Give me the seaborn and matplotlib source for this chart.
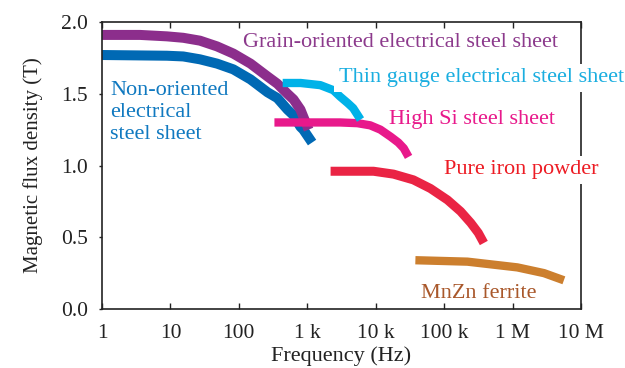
import matplotlib
matplotlib.use("Agg")
import matplotlib.pyplot as plt
import seaborn as sns
import pandas as pd

# ---- data ----
go_f = [1, 3.6, 8.9, 15.4, 27, 48, 83, 148, 263, 365, 513, 630, 794, 875, 1045]
go_b = [1.91, 1.91, 1.90, 1.89, 1.87, 1.83, 1.78, 1.71, 1.62, 1.57, 1.50, 1.46, 1.39, 1.34, 1.25]

no_f = [1, 8.9, 15.4, 27, 48, 83, 148, 263, 365, 513, 630, 794, 875, 1175]
no_b = [1.77, 1.765, 1.76, 1.74, 1.71, 1.67, 1.60, 1.51, 1.47, 1.39, 1.35, 1.27, 1.25, 1.16]

tg_f = [437, 800, 1550, 2400, 3020, 3900, 4680, 6000]
tg_b = [1.575, 1.575, 1.56, 1.525, 1.48, 1.435, 1.40, 1.32]

hs_f = [331, 3020, 5400, 8300, 11700, 16600, 21400, 25700, 30200]
hs_b = [1.30, 1.30, 1.295, 1.28, 1.25, 1.20, 1.16, 1.12, 1.06]

pi_f = [2190, 9300, 18200, 35500, 63000, 112000, 174000, 245000, 316000, 380000]
pi_b = [0.96, 0.96, 0.94, 0.90, 0.84, 0.76, 0.68, 0.60, 0.53, 0.46]

mz_f = [38000, 219000, 1175000, 2880000, 5620000]
mz_b = [0.34, 0.33, 0.29, 0.25, 0.20]

xtick_vals = [1, 10, 100, 1e3, 1e4, 1e5, 1e6, 1e7]
xtick_labels = ["1", "10", "100", "1 k", "10 k", "100 k", "1 M", "10 M"]
ytick_vals = [0.0, 0.5, 1.0, 1.5, 2.0]
ytick_labels = ["0.0", "0.5", "1.0", "1.5", "2.0"]

series = [
    ("Non-oriented", no_f, no_b, "#0069B4", 7.2),
    ("Grain-oriented", go_f, go_b, "#8C2E8C", 7.2),
    ("High Si", hs_f, hs_b, "#E8198B", 6.0),
    ("Thin gauge", tg_f, tg_b, "#00B2E8", 6.0),
    ("Pure iron", pi_f, pi_b, "#EA2444", 6.5),
    ("MnZn", mz_f, mz_b, "#CC7F2E", 6.0),
]

sns.set_style("ticks")
plt.rcParams["font.family"] = ["Liberation Serif", "DejaVu Serif"]

fig = plt.figure(figsize=(6.25, 3.68), dpi=100)
ax = fig.add_axes([0.1632, 0.1603, 0.9296 - 0.1632, 0.9402 - 0.1603])

for name, f, b, col, lw in series:
    df = pd.DataFrame({"f": f, "B": b})
    sns.lineplot(data=df, x="f", y="B", ax=ax, color=col, linewidth=lw,
                 sort=False, estimator=None, solid_capstyle="butt",
                 solid_joinstyle="round", legend=False)

ax.set_xscale("log")
ax.set_xlim(1, 1e7)
ax.set_ylim(0, 2.0)
ax.set_xticks(xtick_vals)
ax.set_xticklabels(xtick_labels)
ax.minorticks_off()
ax.set_yticks(ytick_vals)
ax.set_yticklabels(ytick_labels)

ax.tick_params(axis="x", direction="in", length=4, width=1, top=True,
               labelsize=15.5, pad=11, colors="#222222")
ax.tick_params(axis="y", direction="out", length=2, width=1,
               labelsize=15.5, pad=8, colors="#222222")
for s in ax.spines.values():
    s.set_visible(True)
    s.set_linewidth(1.2)
    s.set_color("#222222")

ax.set_xlabel("Frequency (Hz)", fontsize=16, labelpad=2, color="#222222")
ax.set_ylabel("Magnetic flux density (T)", fontsize=15, labelpad=13, color="#222222")

wb = dict(facecolor="white", edgecolor="none", pad=3)
ax.text(115, 1.86, "Grain-oriented electrical steel sheet", color="#8C3A8C",
        fontsize=16, va="center", ha="left")
ax.text(2880, 1.61, "Thin gauge electrical steel sheet", color="#1AAEE0",
        fontsize=16, va="center", ha="left", bbox=wb, zorder=4)
ax.text(15400, 1.32, "High Si steel sheet", color="#E8198B",
        fontsize=16, va="center", ha="left")
ax.text(98000, 0.97, "Pure iron powder", color="#ED1C24",
        fontsize=16, va="center", ha="left", bbox=wb, zorder=4)
ax.text(45400, 0.11, "MnZn ferrite", color="#A9582B",
        fontsize=16, va="center", ha="left")
ax.text(1.31, 1.37, "Non-oriented\nelectrical\nsteel sheet", color="#1079C0",
        fontsize=16, va="center", ha="left", linespacing=1.22)

fig.savefig("out.png", dpi=100)
